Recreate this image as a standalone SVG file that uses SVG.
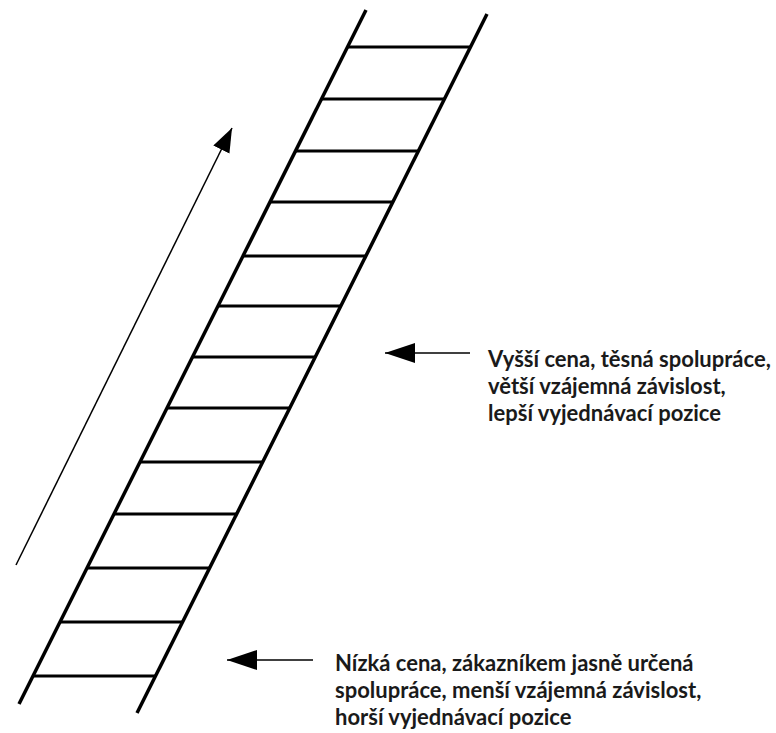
<svg xmlns="http://www.w3.org/2000/svg" width="776" height="733" viewBox="0 0 776 733">
<defs>
<style>
.rail{stroke:#000;stroke-width:3.5;fill:none;stroke-linecap:butt}
.rung{stroke:#000;stroke-width:3;fill:none}
.arr{stroke:#000;stroke-width:1.5;fill:none}
.lbl{font-family:Lato,"Open Sans","Liberation Sans",sans-serif;font-weight:bold;font-size:22px;fill:#1a1a1a}
</style>
<marker id="head" markerUnits="userSpaceOnUse" markerWidth="32" markerHeight="22" refX="30" refY="10" orient="auto">
<path d="M0,0 L30,10 L0,20 z" fill="#000"/>
</marker>
<marker id="headSmall" markerUnits="userSpaceOnUse" markerWidth="26" markerHeight="20" refX="24" refY="9" orient="auto">
<path d="M0,0 L24,9 L0,18 z" fill="#000"/>
</marker>
</defs>
<g id="ladder">
<line class="rail" x1="366" y1="10" x2="19" y2="704"/>
<line class="rail" x1="487" y1="14" x2="137" y2="713"/>
<line class="rung" x1="347.5" y1="47" x2="470.2" y2="47"/>
<line class="rung" x1="321.5" y1="99" x2="444.2" y2="99"/>
<line class="rung" x1="295.5" y1="151" x2="418.2" y2="151"/>
<line class="rung" x1="270" y1="202" x2="392.7" y2="202"/>
<line class="rung" x1="243" y1="256" x2="365.7" y2="256"/>
<line class="rung" x1="218" y1="306" x2="340.7" y2="306"/>
<line class="rung" x1="192.5" y1="357" x2="315.2" y2="357"/>
<line class="rung" x1="167" y1="408" x2="289.7" y2="408"/>
<line class="rung" x1="140" y1="462" x2="262.7" y2="462"/>
<line class="rung" x1="114" y1="514" x2="236.7" y2="514"/>
<line class="rung" x1="87" y1="568" x2="209.7" y2="568"/>
<line class="rung" x1="60" y1="622" x2="182.7" y2="622"/>
<line class="rung" x1="33" y1="676" x2="155.7" y2="676"/>
</g>
<g id="connectors">
<line class="arr" x1="16" y1="565" x2="232" y2="128" marker-end="url(#headSmall)"/>
<line class="arr" x1="470" y1="353" x2="385" y2="353" marker-end="url(#head)"/>
<line class="arr" x1="313" y1="660" x2="227" y2="660" marker-end="url(#head)"/>
</g>
<g id="label-high">
<text class="lbl" x="488" y="367">Vyšší cena, těsná spolupráce,</text>
<text class="lbl" x="488" y="394">větší vzájemná závislost,</text>
<text class="lbl" x="488" y="421">lepší vyjednávací pozice</text>
</g>
<g id="label-low">
<text class="lbl" x="335" y="671">Nízká cena, zákazníkem jasně určená</text>
<text class="lbl" x="335" y="698">spolupráce, menší vzájemná závislost,</text>
<text class="lbl" x="335" y="725">horší vyjednávací pozice</text>
</g>
</svg>
